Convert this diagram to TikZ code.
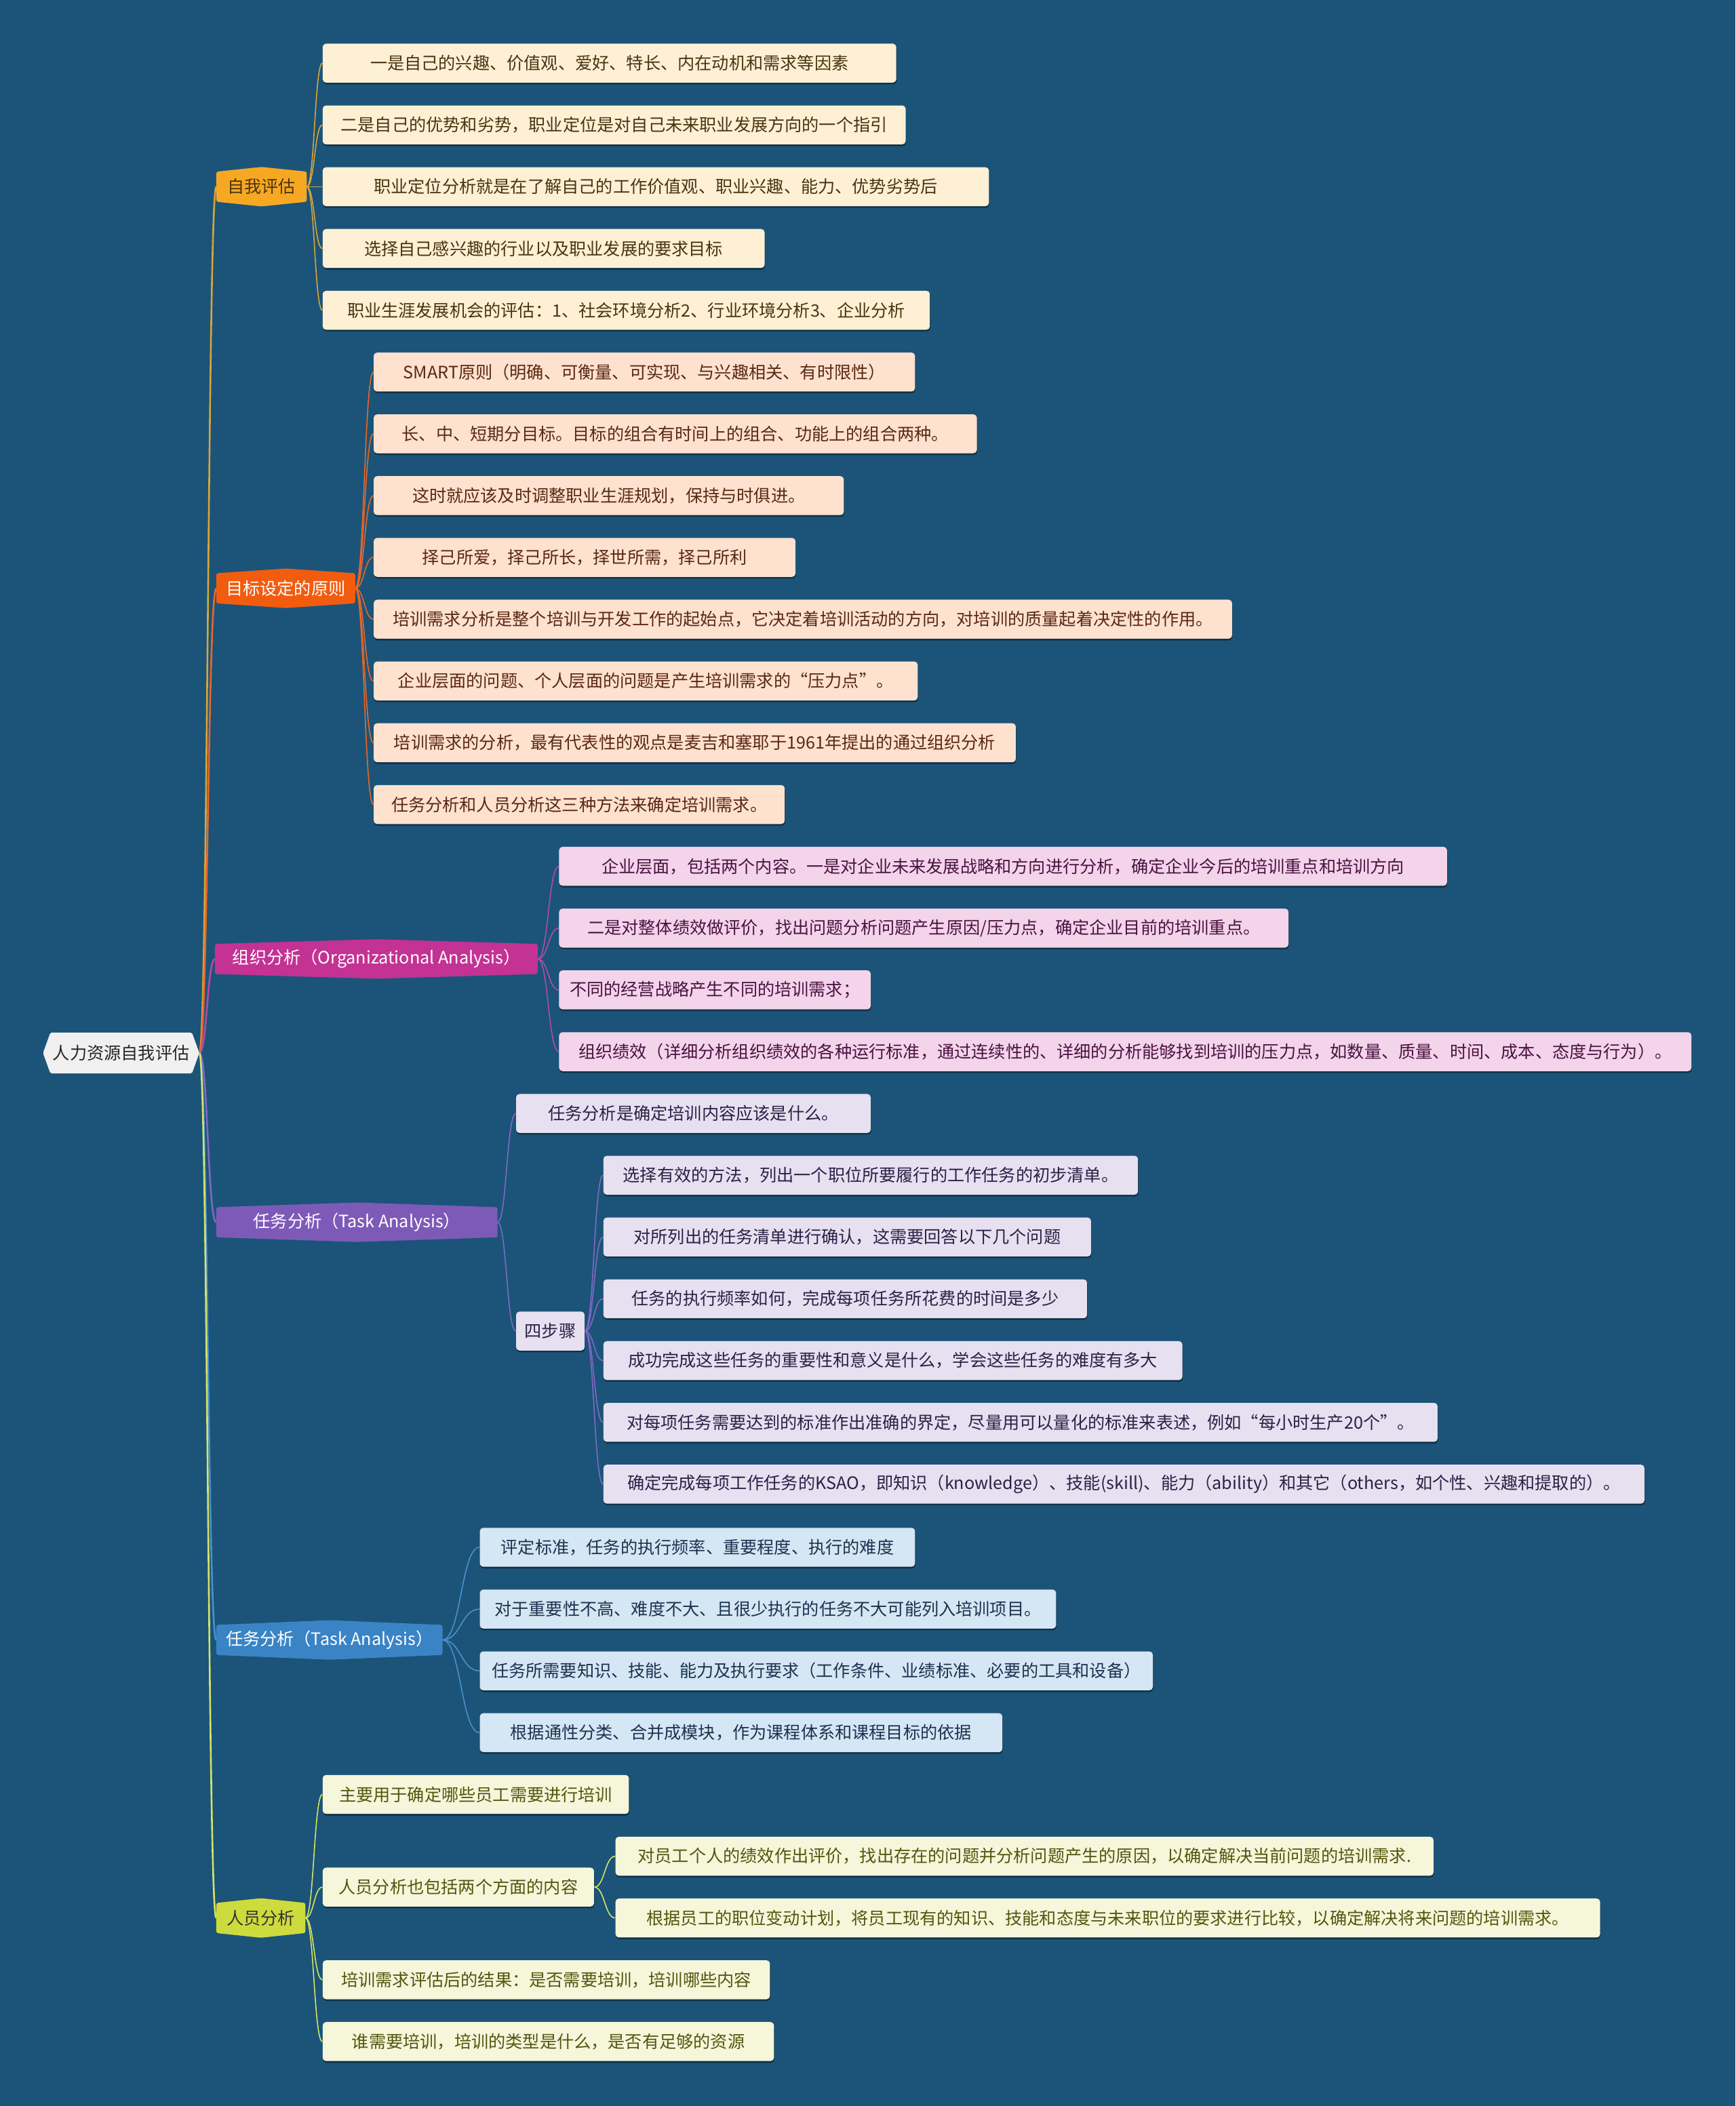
\documentclass[tikz,border=0pt]{standalone}
\usepackage{fontspec}
\setmainfont{Noto Sans CJK SC}
\usetikzlibrary{calc,shadows}
\newdimen\pxu \pxu=0.9907pt
\pgfdeclarelayer{bgrect}\pgfdeclarelayer{links}
\pgfsetlayers{bgrect,links,main}
\definecolor{bgc}{HTML}{1B5478}
\definecolor{rootf}{HTML}{F0F0F0}
\definecolor{aF}{HTML}{F7A823}\definecolor{aL}{HTML}{FDF0D4}\definecolor{aT}{HTML}{4A3410}\definecolor{aC}{HTML}{D9A53A}
\definecolor{bF}{HTML}{F25C0F}\definecolor{bL}{HTML}{FEE1CF}\definecolor{bT}{HTML}{5A2812}\definecolor{bC}{HTML}{E8672B}
\definecolor{cF}{HTML}{C43294}\definecolor{cL}{HTML}{F3D4EA}\definecolor{cT}{HTML}{4A1240}\definecolor{cC}{HTML}{B34AA5}
\definecolor{dF}{HTML}{7E5AB8}\definecolor{dL}{HTML}{E6E0F1}\definecolor{dT}{HTML}{2A2245}\definecolor{dC}{HTML}{7F68C4}
\definecolor{eF}{HTML}{3A84C6}\definecolor{eL}{HTML}{D5E6F4}\definecolor{eT}{HTML}{1B3350}\definecolor{eC}{HTML}{4B8FD0}
\definecolor{fF}{HTML}{CEDB3C}\definecolor{fL}{HTML}{F6F6DB}\definecolor{fT}{HTML}{55550E}\definecolor{fC}{HTML}{D6E266}
\newcommand\fz{\fontsize{12.6pt}{15pt}\selectfont}
\newcommand\vhex[2]{\fill[#2, rounded corners=1.5pt] ($(#1.north west)+(0,3.5)$) -- (#1.north) -- ($(#1.north east)+(0,3.5)$) -- ($(#1.south east)+(0,-3.5)$) -- (#1.south) -- ($(#1.south west)+(0,-3.5)$) -- cycle;}
\newcommand\lnk[3]{\draw[#3] let \p1=(#1.east), \p2=(#2.west) in (\p1) .. controls ({(\x1+\x2)/2},\y1) and ({(\x1+\x2)/2},\y2) .. (\p2);}
\tikzset{
 leaf/.style={rectangle, rounded corners=2.5pt, anchor=west, minimum height=29*\pxu, inner xsep=2pt, inner ysep=0pt, font=\fz, drop shadow={shadow xshift=0.3pt, shadow yshift=-1.3pt, opacity=0.4, fill=black}},
 la/.style={leaf, fill=aL, text=aT},
 lb/.style={leaf, fill=bL, text=bT},
 lc/.style={leaf, fill=cL, text=cT},
 ld/.style={leaf, fill=dL, text=dT},
 le/.style={leaf, fill=eL, text=eT},
 lf/.style={leaf, fill=fL, text=fT},
 br/.style={rectangle, anchor=west, minimum height=29*\pxu, inner xsep=2pt, inner ysep=0pt, font=\fz},
 ml/.style={line width=1.3pt},
 sl/.style={line width=0.8pt}
}
\begin{document}
\begin{tikzpicture}[x=0.9907pt, y=-0.9907pt]
\useasboundingbox (0,0) rectangle (1292,1568);
\begin{pgfonlayer}{bgrect}
\fill[bgc] (0,0) rectangle (1292,1568);
\end{pgfonlayer}

% root
\node[br, minimum width=116*\pxu, minimum height=30*\pxu, text=black!85] (root) at (32,784) {人力资源自我评估};
% branches
\node[br, minimum width=67*\pxu, text=aT] (bA) at (161,139) {自我评估};
\node[br, minimum width=103*\pxu, text=white] (bB) at (161,438) {目标设定的原则};
\node[br, minimum width=240*\pxu, text=white] (bC) at (160,714) {组织分析（Organizational Analysis）};
\node[br, minimum width=209*\pxu, text=white] (bD) at (161,910) {任务分析（Task Analysis）};
\node[br, minimum width=168*\pxu, text=white] (bE) at (161,1221) {任务分析（Task Analysis）};
\node[br, minimum width=66*\pxu, text=black!80] (bF) at (161,1428) {人员分析};

% leaves A
\node[la, minimum width=427*\pxu] (A1) at (240,47) {一是自己的兴趣、价值观、爱好、特长、内在动机和需求等因素};
\node[la, minimum width=434*\pxu] (A2) at (240,93) {二是自己的优势和劣势，职业定位是对自己未来职业发展方向的一个指引};
\node[la, minimum width=496*\pxu] (A3) at (240,139) {职业定位分析就是在了解自己的工作价值观、职业兴趣、能力、优势劣势后};
\node[la, minimum width=329*\pxu] (A4) at (240,185) {选择自己感兴趣的行业以及职业发展的要求目标};
\node[la, minimum width=452*\pxu] (A5) at (240,231) {职业生涯发展机会的评估：1、社会环境分析2、行业环境分析3、企业分析};
% leaves B
\node[lb, minimum width=403*\pxu] (B1) at (278,277) {SMART原则（明确、可衡量、可实现、与兴趣相关、有时限性）};
\node[lb, minimum width=449*\pxu] (B2) at (278,323) {长、中、短期分目标。目标的组合有时间上的组合、功能上的组合两种。};
\node[lb, minimum width=350*\pxu] (B3) at (278,369) {这时就应该及时调整职业生涯规划，保持与时俱进。};
\node[lb, minimum width=314*\pxu] (B4) at (278,415) {择己所爱，择己所长，择世所需，择己所利};
\node[lb, minimum width=639*\pxu] (B5) at (278,461) {培训需求分析是整个培训与开发工作的起始点，它决定着培训活动的方向，对培训的质量起着决定性的作用。};
\node[lb, minimum width=405*\pxu] (B6) at (278,507) {企业层面的问题、个人层面的问题是产生培训需求的“压力点”。};
\node[lb, minimum width=478*\pxu] (B7) at (278,553) {培训需求的分析，最有代表性的观点是麦吉和塞耶于1961年提出的通过组织分析};
\node[lb, minimum width=306*\pxu] (B8) at (278,599) {任务分析和人员分析这三种方法来确定培训需求。};
% leaves C
\node[lc, minimum width=661*\pxu] (C1) at (416,645) {企业层面，包括两个内容。一是对企业未来发展战略和方向进行分析，确定企业今后的培训重点和培训方向};
\node[lc, minimum width=543*\pxu] (C2) at (416,691) {二是对整体绩效做评价，找出问题分析问题产生原因/压力点，确定企业目前的培训重点。};
\node[lc, minimum width=232*\pxu] (C3) at (416,737) {不同的经营战略产生不同的培训需求；};
\node[lc, minimum width=843*\pxu] (C4) at (416,783) {组织绩效（详细分析组织绩效的各种运行标准，通过连续性的、详细的分析能够找到培训的压力点，如数量、质量、时间、成本、态度与行为）。};
% leaves D
\node[ld, minimum width=264*\pxu] (D1) at (384,829) {任务分析是确定培训内容应该是什么。};
\node[ld, minimum width=51*\pxu] (D2) at (384,991) {四步骤};
\node[ld, minimum width=398*\pxu] (D21) at (449,875) {选择有效的方法，列出一个职位所要履行的工作任务的初步清单。};
\node[ld, minimum width=363*\pxu] (D22) at (449,921) {对所列出的任务清单进行确认，这需要回答以下几个问题};
\node[ld, minimum width=360*\pxu] (D23) at (449,967) {任务的执行频率如何，完成每项任务所花费的时间是多少};
\node[ld, minimum width=431*\pxu] (D24) at (449,1013) {成功完成这些任务的重要性和意义是什么，学会这些任务的难度有多大};
\node[ld, minimum width=621*\pxu] (D25) at (449,1059) {对每项任务需要达到的标准作出准确的界定，尽量用可以量化的标准来表述，例如“每小时生产20个”。};
\node[ld, minimum width=775*\pxu] (D26) at (449,1105) {确定完成每项工作任务的KSAO，即知识（knowledge）、技能(skill)、能力（ability）和其它（others，如个性、兴趣和提取的）。};
% leaves E
\node[le, minimum width=324*\pxu] (E1) at (357,1152) {评定标准，任务的执行频率、重要程度、执行的难度};
\node[le, minimum width=429*\pxu] (E2) at (357,1198) {对于重要性不高、难度不大、且很少执行的任务不大可能列入培训项目。};
\node[le, minimum width=501*\pxu] (E3) at (357,1244) {任务所需要知识、技能、能力及执行要求（工作条件、业绩标准、必要的工具和设备）};
\node[le, minimum width=389*\pxu] (E4) at (357,1290) {根据通性分类、合并成模块，作为课程体系和课程目标的依据};
% leaves F
\node[lf, minimum width=228*\pxu] (F1) at (240,1336) {主要用于确定哪些员工需要进行培训};
\node[lf, minimum width=202*\pxu] (F2) at (240,1405) {人员分析也包括两个方面的内容};
\node[lf, minimum width=609*\pxu] (F21) at (458,1382) {对员工个人的绩效作出评价，找出存在的问题并分析问题产生的原因，以确定解决当前问题的培训需求.};
\node[lf, minimum width=733*\pxu] (F22) at (458,1428) {根据员工的职位变动计划，将员工现有的知识、技能和态度与未来职位的要求进行比较，以确定解决将来问题的培训需求。};
\node[lf, minimum width=333*\pxu] (F3) at (240,1474) {培训需求评估后的结果：是否需要培训，培训哪些内容};
\node[lf, minimum width=336*\pxu] (F4) at (240,1520) {谁需要培训，培训的类型是什么，是否有足够的资源};

\begin{pgfonlayer}{links}
% root -> branches
\lnk{root}{bA}{ml,aC}
\lnk{root}{bB}{ml,bC}
\lnk{root}{bC}{ml,cC}
\lnk{root}{bD}{ml,dC}
\lnk{root}{bE}{ml,eC}
\lnk{root}{bF}{ml,fC}
% branch -> leaves
\foreach \q in {A1,A2,A3,A4,A5} {\lnk{bA}{\q}{sl,aC}}
\foreach \q in {B1,B2,B3,B4,B5,B6,B7,B8} {\lnk{bB}{\q}{sl,bC}}
\foreach \q in {C1,C2,C3,C4} {\lnk{bC}{\q}{sl,cC}}
\foreach \q in {D1,D2} {\lnk{bD}{\q}{sl,dC}}
\foreach \q in {D21,D22,D23,D24,D25,D26} {\lnk{D2}{\q}{sl,dC}}
\foreach \q in {E1,E2,E3,E4} {\lnk{bE}{\q}{sl,eC}}
\foreach \q in {F1,F2,F3,F4} {\lnk{bF}{\q}{sl,fC}}
\foreach \q in {F21,F22} {\lnk{F2}{\q}{sl,fC}}
% shapes of root and branches
\fill[rootf, rounded corners=1pt] (root.west) -- ($(root.north west)+(5.5,0)$) -- ($(root.north east)+(-5.5,0)$) -- (root.east) -- ($(root.south east)+(-5.5,0)$) -- ($(root.south west)+(5.5,0)$) -- cycle;
\vhex{bA}{aF}
\vhex{bB}{bF}
\vhex{bC}{cF}
\vhex{bD}{dF}
\vhex{bE}{eF}
\vhex{bF}{fF}
\end{pgfonlayer}
\end{tikzpicture}
\end{document}
